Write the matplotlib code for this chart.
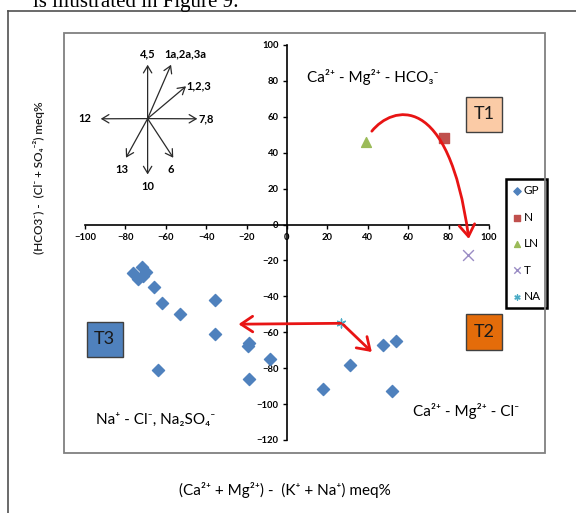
import matplotlib
matplotlib.use('Agg')
import matplotlib.pyplot as plt
from matplotlib.patches import FancyArrowPatch, Rectangle
from matplotlib.path import Path
from matplotlib.lines import Line2D

plt.rcParams['font.family'] = ['Lato', 'DejaVu Sans']

# sample groups
gp_x = [-76, -74, -72, -70, -71.5, -66, -62, -53, -35.5, -35.5, -18.7, -19.2, -63.7, -18.7, -8.4, 18, 31, 47.4, 53.8, 51.8]
gp_y = [-27, -30.5, -23.5, -26.7, -28.5, -35, -43.5, -50, -41.8, -60.7, -65.9, -67.8, -81.2, -86, -74.8, -91.5, -78, -67.2, -64.6, -92.8]
n_x, n_y = [77.7], [48]
ln_x, ln_y = [39], [46]
t_x, t_y = [89.4], [-16.7]
na_x, na_y = [26.7], [-54.8]

x_ticks = list(range(-100, 101, 20))
y_ticks = list(range(-120, 101, 20))

# little direction diagram (upper left)
comp_cx, comp_cy = -69, 59
comp_tip_x = [-69, -57.4, -50, -44.4, -92.2, -79.7, -69, -56.3]
comp_tip_y = [89, 89, 77, 58.9, 58.9, 37.2, 27.9, 37.2]
comp_labels = ['4,5', '1a,2a,3a', '1,2,3', '7,8', '12', '13', '10', '6']
comp_lab_x = [-69, -50.5, -43.6, -39.8, -100, -81.8, -69, -57.4]
comp_lab_y = [95, 95, 77, 59, 59, 30.6, 21.4, 30.6]

W, H = 576, 513
fig = plt.figure(figsize=(W / 100, H / 100), dpi=100)
ax = fig.add_axes([85 / W, 1 - 440 / H, 404 / W, 395 / H])
ax.set_xlim(-100, 100)
ax.set_ylim(-120, 100)
ax.patch.set_alpha(0)

for s in ['top', 'right']:
    ax.spines[s].set_visible(False)
ax.spines['left'].set_position(('data', 0))
ax.spines['bottom'].set_position(('data', 0))
ax.spines['left'].set_linewidth(1.2)
ax.spines['bottom'].set_linewidth(1.2)
ax.set_xticks(x_ticks)
ax.set_yticks(y_ticks)
ax.tick_params(direction='out', length=3, width=1, labelsize=6.8, pad=3)
for lab in ax.get_xticklabels() + ax.get_yticklabels():
    lab.set_fontweight('bold')

ax.scatter(gp_x, gp_y, marker='D', s=38, color='#4F81BD', label='GP', zorder=3)
ax.scatter(n_x, n_y, marker='s', s=45, color='#C0504D', label='N', zorder=3)
ax.scatter(ln_x, ln_y, marker='^', s=50, color='#9BBB59', label='LN', zorder=3)
ax.scatter(t_x, t_y, marker='x', s=60, color='#9A8CC4', linewidths=1, label='T', zorder=3)
ax.scatter(na_x, na_y, marker=(6, 2, 0), s=40, color='#4BACC6', linewidths=1, label='NA', zorder=3)

leg = ax.legend(loc='upper left', bbox_to_anchor=(506 / W, 1 - 179 / H), bbox_transform=fig.transFigure,
                borderaxespad=0, fontsize=8.5, labelspacing=1.3, handlelength=0.7, handletextpad=0.25,
                borderpad=0.55, markerscale=0.6, fancybox=False, framealpha=1)
leg.get_frame().set_edgecolor('black')
leg.get_frame().set_linewidth(1.8)

# red arrows
curve = Path([(42, 52), (52, 66), (80, 75), (90, -8)],
             [Path.MOVETO, Path.CURVE4, Path.CURVE4, Path.CURVE4])
ax.add_patch(FancyArrowPatch(path=curve, arrowstyle='->,head_length=0.6,head_width=0.4',
                             mutation_scale=14, color='#E81414', lw=2, zorder=4))
arr = dict(arrowstyle='->,head_length=0.6,head_width=0.4', mutation_scale=14, color='#E81414',
           lw=2, shrinkA=0, shrinkB=0)
ax.annotate('', xy=(-24, -55.5), xytext=(26.7, -55), arrowprops=arr, zorder=4)
ax.annotate('', xy=(42, -71), xytext=(27.8, -55.7), arrowprops=arr, zorder=4)

# direction diagram
for tx, ty, lab, lx, ly in zip(comp_tip_x, comp_tip_y, comp_labels, comp_lab_x, comp_lab_y):
    ax.annotate('', xy=(tx, ty), xytext=(comp_cx, comp_cy),
                arrowprops=dict(arrowstyle='->,head_length=0.5,head_width=0.3', mutation_scale=10,
                                color='#2a2a2a', lw=0.9, shrinkA=0, shrinkB=0))
    ax.text(lx, ly, lab, ha='center', va='center', fontsize=8, fontweight='bold')

# type boxes
boxes = [((88.6, 51.3), 'T1', '#FBCBA6'), ((88.6, -69.6), 'T2', '#E46C0A'), ((-99.2, -74), 'T3', '#4F81BD')]
for (bx, by), lab, col in boxes:
    ax.add_patch(Rectangle((bx, by), 17.8, 20, facecolor=col, edgecolor='#404040', lw=1, clip_on=False, zorder=2))
    ax.text(bx + 8.9, by + 10, lab, ha='center', va='center', fontsize=13, color='#1a1a1a', zorder=3)

ax.text(9.9, 82.4, 'Ca²⁺ - Mg²⁺ - HCO₃⁻', ha='left', va='center', fontsize=11)
ax.text(62.4, -104, 'Ca²⁺ - Mg²⁺ - Cl⁻', ha='left', va='center', fontsize=11)
ax.text(-94.5, -108.6, 'Na⁺ - Cl⁻, Na₂SO₄⁻', ha='left', va='center', fontsize=11)

fig.text(285 / W, 1 - 490 / H, '(Ca²⁺ + Mg²⁺) -  (K⁺ + Na⁺) meq%', ha='center', va='center', fontsize=11)
fig.text(39 / W, 1 - 178 / H, '(HCO3⁻) -  (Cl⁻ + SO₄⁻²) meq%', ha='center', va='center', rotation=90,
         fontsize=8.5, fontweight='semibold', color='#1a1a1a')

# frames
fig.patches.append(Rectangle((64 / W, 1 - 453 / H), (545 - 64) / W, (453 - 33) / H, transform=fig.transFigure,
                             fill=False, ec='#808080', lw=1.3))
fig.lines.append(Line2D([8 / W, 8 / W], [0, 1 - 11 / H], transform=fig.transFigure, color='#505050', lw=1.2))
fig.lines.append(Line2D([8 / W, 1], [1 - 11 / H, 1 - 11 / H], transform=fig.transFigure, color='#505050', lw=1.2))
fig.text(33 / W, 1 - 7.5 / H, 'is illustrated in Figure 9:', ha='left', va='baseline', fontsize=15,
         family='Liberation Serif')

fig.savefig('out.png', dpi=100)
